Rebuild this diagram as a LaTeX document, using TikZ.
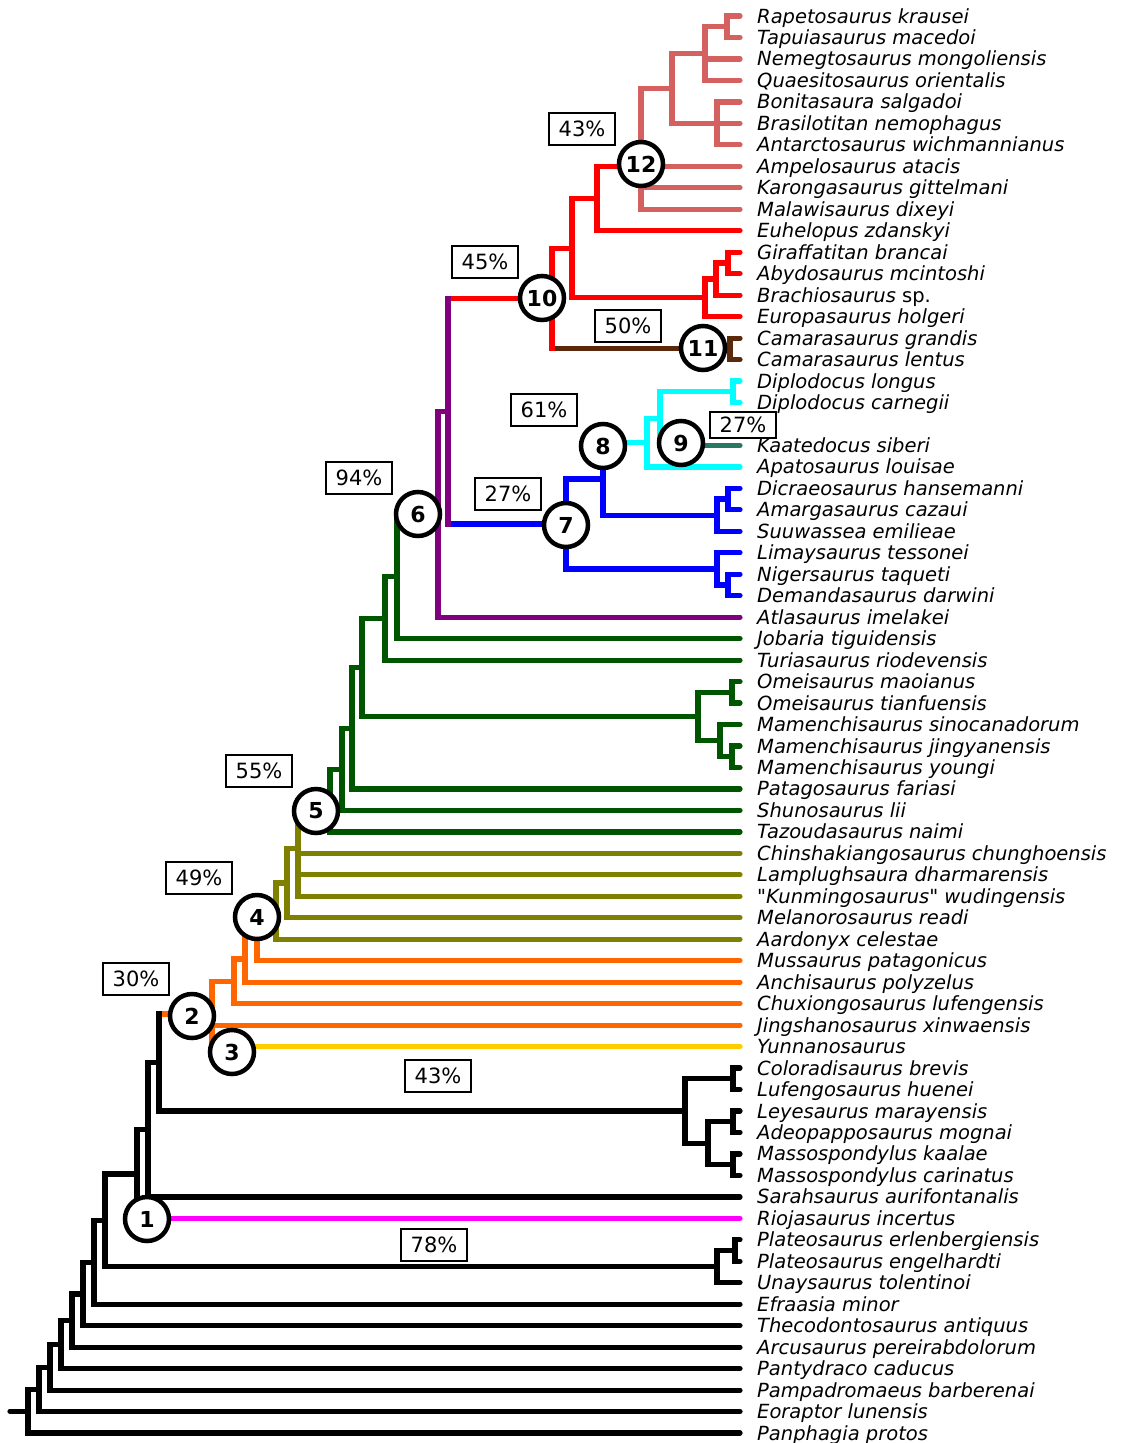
\documentclass[tikz,border=0pt]{standalone}
\usepackage{fontspec}
\setmainfont{DejaVu Sans}[Ligatures=TeXOff]
\definecolor{cLR}{RGB}{212,96,96}
\definecolor{cR}{RGB}{255,0,0}
\definecolor{cBr}{RGB}{90,40,10}
\definecolor{cCy}{RGB}{0,255,255}
\definecolor{cTe}{RGB}{40,120,100}
\definecolor{cBl}{RGB}{0,0,255}
\definecolor{cPu}{RGB}{128,0,128}
\definecolor{cGr}{RGB}{0,85,0}
\definecolor{cOl}{RGB}{128,128,0}
\definecolor{cOr}{RGB}{255,102,0}
\definecolor{cYe}{RGB}{255,204,0}
\definecolor{cMa}{RGB}{255,0,255}
\tikzset{
  br/.style={line width=5.2pt,line cap=round},
  lbl/.style={anchor=west,inner sep=0pt,text height=14pt,text depth=0pt,font=\fontsize{19.5}{23}\selectfont\itshape},
  cnum/.style={circle,draw=black,line width=4.5pt,fill=white,minimum size=44pt,inner sep=0pt,font=\fontsize{22}{24}\selectfont\bfseries},
  pbox/.style={draw=black,line width=2.5pt,fill=white,minimum width=66pt,minimum height=32pt,inner sep=0pt,font=\fontsize{21}{24}\selectfont}
}
\newcommand\mkleaf[3]{\coordinate (#1) at (740,#2); \node[lbl] (t#1) at (757,#2) {#3};}
\newcommand\hedge[3]{\draw[br,#1] (#2 |- #3) -- (#3);}
\newcommand\vedge[4]{\draw[br,line cap=rect,#1] (#2 |- #3) -- (#2 |- #4);}
\begin{document}
\begin{tikzpicture}[x=1pt,y=-1pt]
\useasboundingbox (0,0) rectangle (1124,1443);
% leaves
\mkleaf{l0}{16.0}{Rapetosaurus krausei}
\mkleaf{l1}{37.5}{Tapuiasaurus macedoi}
\mkleaf{l2}{58.9}{Nemegtosaurus mongoliensis}
\mkleaf{l3}{80.4}{Quaesitosaurus orientalis}
\mkleaf{l4}{101.9}{Bonitasaura salgadoi}
\mkleaf{l5}{123.4}{Brasilotitan nemophagus}
\mkleaf{l6}{144.8}{Antarctosaurus wichmannianus}
\mkleaf{l7}{166.3}{Ampelosaurus atacis}
\mkleaf{l8}{187.8}{Karongasaurus gittelmani}
\mkleaf{l9}{209.2}{Malawisaurus dixeyi}
\mkleaf{l10}{230.7}{Euhelopus zdanskyi}
\mkleaf{l11}{252.2}{Giraffatitan brancai}
\mkleaf{l12}{273.6}{Abydosaurus mcintoshi}
\mkleaf{l13}{295.1}{Brachiosaurus {\upshape sp.}}
\mkleaf{l14}{316.6}{Europasaurus holgeri}
\mkleaf{l15}{338.1}{Camarasaurus grandis}
\mkleaf{l16}{359.5}{Camarasaurus lentus}
\mkleaf{l17}{381.0}{Diplodocus longus}
\mkleaf{l18}{402.5}{Diplodocus carnegii}
\mkleaf{l20}{445.4}{Kaatedocus siberi}
\mkleaf{l21}{466.9}{Apatosaurus louisae}
\mkleaf{l22}{488.3}{Dicraeosaurus hansemanni}
\mkleaf{l23}{509.8}{Amargasaurus cazaui}
\mkleaf{l24}{531.3}{Suuwassea emilieae}
\mkleaf{l25}{552.8}{Limaysaurus tessonei}
\mkleaf{l26}{574.2}{Nigersaurus taqueti}
\mkleaf{l27}{595.7}{Demandasaurus darwini}
\mkleaf{l28}{617.2}{Atlasaurus imelakei}
\mkleaf{l29}{638.6}{Jobaria tiguidensis}
\mkleaf{l30}{660.1}{Turiasaurus riodevensis}
\mkleaf{l31}{681.6}{Omeisaurus maoianus}
\mkleaf{l32}{703.0}{Omeisaurus tianfuensis}
\mkleaf{l33}{724.5}{Mamenchisaurus sinocanadorum}
\mkleaf{l34}{746.0}{Mamenchisaurus jingyanensis}
\mkleaf{l35}{767.5}{Mamenchisaurus youngi}
\mkleaf{l36}{788.9}{Patagosaurus fariasi}
\mkleaf{l37}{810.4}{Shunosaurus lii}
\mkleaf{l38}{831.9}{Tazoudasaurus naimi}
\mkleaf{l39}{853.3}{Chinshakiangosaurus chunghoensis}
\mkleaf{l40}{874.8}{Lamplughsaura dharmarensis}
\mkleaf{l41}{896.3}{"Kunmingosaurus" wudingensis}
\mkleaf{l42}{917.7}{Melanorosaurus readi}
\mkleaf{l43}{939.2}{Aardonyx celestae}
\mkleaf{l44}{960.7}{Mussaurus patagonicus}
\mkleaf{l45}{982.2}{Anchisaurus polyzelus}
\mkleaf{l46}{1003.6}{Chuxiongosaurus lufengensis}
\mkleaf{l47}{1025.1}{Jingshanosaurus xinwaensis}
\mkleaf{l48}{1046.6}{Yunnanosaurus}
\mkleaf{l49}{1068.0}{Coloradisaurus brevis}
\mkleaf{l50}{1089.5}{Lufengosaurus huenei}
\mkleaf{l51}{1111.0}{Leyesaurus marayensis}
\mkleaf{l52}{1132.4}{Adeopapposaurus mognai}
\mkleaf{l53}{1153.9}{Massospondylus kaalae}
\mkleaf{l54}{1175.4}{Massospondylus carinatus}
\mkleaf{l55}{1196.9}{Sarahsaurus aurifontanalis}
\mkleaf{l56}{1218.3}{Riojasaurus incertus}
\mkleaf{l57}{1239.8}{Plateosaurus erlenbergiensis}
\mkleaf{l58}{1261.3}{Plateosaurus engelhardti}
\mkleaf{l59}{1282.7}{Unaysaurus tolentinoi}
\mkleaf{l60}{1304.2}{Efraasia minor}
\mkleaf{l61}{1325.7}{Thecodontosaurus antiquus}
\mkleaf{l62}{1347.1}{Arcusaurus pereirabdolorum}
\mkleaf{l63}{1368.6}{Pantydraco caducus}
\mkleaf{l64}{1390.1}{Pampadromaeus barberenai}
\mkleaf{l65}{1411.6}{Eoraptor lunensis}
\mkleaf{l66}{1433.0}{Panphagia protos}
% internal nodes
\coordinate (O4) at (727,26.75);
\coordinate (O2) at (705,53.6);
\coordinate (O3) at (717,123.4);
\coordinate (O1) at (672,88.5);
\coordinate (O0) at (641,166.3);
\coordinate (M2) at (597,198.5);
\coordinate (N2) at (728,262.9);
\coordinate (N1) at (716,279.0);
\coordinate (N0) at (705,297.8);
\coordinate (M1) at (572,248.2);
\coordinate (P0) at (730,348.8);
\coordinate (M0) at (552,298.5);
\coordinate (Q2) at (733,391.75);
\coordinate (L1) at (660,418.6);
\coordinate (L0) at (647,442.75);
\coordinate (K4) at (728,499.0);
\coordinate (K3) at (717,515.2);
\coordinate (K1) at (603,479.0);
\coordinate (K5) at (728,585.0);
\coordinate (K2) at (717,568.9);
\coordinate (K0) at (566,524.0);
\coordinate (J1) at (448,411.2);
\coordinate (J0) at (438,514.2);
\coordinate (Hjob) at (397,576.4);
\coordinate (Htur) at (385,618.3);
\coordinate (I1) at (732,692.3);
\coordinate (I3) at (732,756.75);
\coordinate (I2) at (720,740.6);
\coordinate (I0) at (698,716.5);
\coordinate (Hmam) at (362,667.4);
\coordinate (Hpat) at (352,728.2);
\coordinate (Hshu) at (342,769.3);
\coordinate (Htaz) at (330,800.6);
\coordinate (D3) at (298,848.5);
\coordinate (D2) at (287,883.0);
\coordinate (D1) at (276,911.0);
\coordinate (E1) at (257,935.9);
\coordinate (E2) at (245,959.0);
\coordinate (E3) at (234,981.3);
\coordinate (E4) at (212,1014.0);
\coordinate (F1) at (733,1078.75);
\coordinate (F3) at (733,1121.7);
\coordinate (F4) at (733,1164.65);
\coordinate (F2) at (708,1143.2);
\coordinate (F0) at (685,1111.0);
\coordinate (A10) at (159,1062.5);
\coordinate (A9) at (148,1129.7);
\coordinate (A8) at (137,1174.0);
\coordinate (G1) at (735,1250.5);
\coordinate (G0) at (717,1266.6);
\coordinate (A7) at (105,1220.3);
\coordinate (A6) at (94,1262.25);
\coordinate (A5) at (83,1294.0);
\coordinate (A4) at (72,1320.5);
\coordinate (A3) at (61,1344.6);
\coordinate (A2) at (50,1367.3);
\coordinate (A1) at (39,1389.5);
\coordinate (A0) at (28,1411.2);
\coordinate (root) at (10,1411.2);
% horizontal edges
\hedge{cLR}{O4}{l0} \hedge{cLR}{O4}{l1}
\hedge{cLR}{O2}{O4} \hedge{cLR}{O2}{l2} \hedge{cLR}{O2}{l3}
\hedge{cLR}{O3}{l4} \hedge{cLR}{O3}{l5} \hedge{cLR}{O3}{l6}
\hedge{cLR}{O1}{O2} \hedge{cLR}{O1}{O3}
\hedge{cLR}{O0}{O1} \hedge{cLR}{O0}{l7} \hedge{cLR}{O0}{l8} \hedge{cLR}{O0}{l9}
\hedge{cR}{M2}{O0} \hedge{cR}{M2}{l10}
\hedge{cR}{N2}{l11} \hedge{cR}{N2}{l12}
\hedge{cR}{N1}{N2} \hedge{cR}{N1}{l13}
\hedge{cR}{N0}{N1} \hedge{cR}{N0}{l14}
\hedge{cR}{M1}{M2} \hedge{cR}{M1}{N0}
\hedge{cBr}{P0}{l15} \hedge{cBr}{P0}{l16}
\hedge{cR}{M0}{M1} \hedge{cBr}{M0}{P0}
\hedge{cCy}{Q2}{l17} \hedge{cCy}{Q2}{l18}
\hedge{cCy}{L1}{Q2} \hedge{cTe}{L1}{l20}
\hedge{cCy}{L0}{L1} \hedge{cCy}{L0}{l21}
\hedge{cBl}{K4}{l22} \hedge{cBl}{K4}{l23}
\hedge{cBl}{K3}{K4} \hedge{cBl}{K3}{l24}
\hedge{cCy}{K1}{L0} \hedge{cBl}{K1}{K3}
\hedge{cBl}{K5}{l26} \hedge{cBl}{K5}{l27}
\hedge{cBl}{K2}{l25} \hedge{cBl}{K2}{K5}
\hedge{cBl}{K0}{K1} \hedge{cBl}{K0}{K2}
\hedge{cR}{J1}{M0} \hedge{cBl}{J1}{K0}
\hedge{cPu}{J0}{J1} \hedge{cPu}{J0}{l28}
\hedge{cGr}{Hjob}{J0} \hedge{cGr}{Hjob}{l29}
\hedge{cGr}{Htur}{Hjob} \hedge{cGr}{Htur}{l30}
\hedge{cGr}{I1}{l31} \hedge{cGr}{I1}{l32}
\hedge{cGr}{I3}{l34} \hedge{cGr}{I3}{l35}
\hedge{cGr}{I2}{l33} \hedge{cGr}{I2}{I3}
\hedge{cGr}{I0}{I1} \hedge{cGr}{I0}{I2}
\hedge{cGr}{Hmam}{Htur} \hedge{cGr}{Hmam}{I0}
\hedge{cGr}{Hpat}{Hmam} \hedge{cGr}{Hpat}{l36}
\hedge{cGr}{Hshu}{Hpat} \hedge{cGr}{Hshu}{l37}
\hedge{cGr}{Htaz}{Hshu} \hedge{cGr}{Htaz}{l38}
\hedge{cGr}{D3}{Htaz} \hedge{cOl}{D3}{l39} \hedge{cOl}{D3}{l40} \hedge{cOl}{D3}{l41}
\hedge{cOl}{D2}{D3} \hedge{cOl}{D2}{l42}
\hedge{cOl}{D1}{D2} \hedge{cOl}{D1}{l43}
\hedge{cOl}{E1}{D1} \hedge{cOr}{E1}{l44}
\hedge{cOr}{E2}{E1} \hedge{cOr}{E2}{l45}
\hedge{cOr}{E3}{E2} \hedge{cOr}{E3}{l46}
\hedge{cOr}{E4}{E3} \hedge{cOr}{E4}{l47} \hedge{cYe}{E4}{l48}
\hedge{black}{F1}{l49} \hedge{black}{F1}{l50}
\hedge{black}{F3}{l51} \hedge{black}{F3}{l52}
\hedge{black}{F4}{l53} \hedge{black}{F4}{l54}
\hedge{black}{F2}{F3} \hedge{black}{F2}{F4}
\hedge{black}{F0}{F1} \hedge{black}{F0}{F2}
\hedge{cOr}{A10}{E4} \hedge{black}{A10}{F0}
\hedge{black}{A9}{A10} \hedge{black}{A9}{l55}
\hedge{black}{A8}{A9} \hedge{cMa}{A8}{l56}
\hedge{black}{G1}{l57} \hedge{black}{G1}{l58}
\hedge{black}{G0}{G1} \hedge{black}{G0}{l59}
\hedge{black}{A7}{A8} \hedge{black}{A7}{G0}
\hedge{black}{A6}{A7} \hedge{black}{A6}{l60}
\hedge{black}{A5}{A6} \hedge{black}{A5}{l61}
\hedge{black}{A4}{A5} \hedge{black}{A4}{l62}
\hedge{black}{A3}{A4} \hedge{black}{A3}{l63}
\hedge{black}{A2}{A3} \hedge{black}{A2}{l64}
\hedge{black}{A1}{A2} \hedge{black}{A1}{l65}
\hedge{black}{A0}{A1} \hedge{black}{A0}{l66}
\draw[br,black] (root) -- (A0);
% vertical edges
\vedge{cLR}{O4}{l0}{l1}
\vedge{cLR}{O2}{O4}{l3}
\vedge{cLR}{O3}{l4}{l6}
\vedge{cLR}{O1}{O2}{O3}
\vedge{cLR}{O0}{O1}{l9}
\vedge{cR}{M2}{O0}{l10}
\vedge{cR}{N2}{l11}{l12}
\vedge{cR}{N1}{N2}{l13}
\vedge{cR}{N0}{N1}{l14}
\vedge{cR}{M1}{M2}{N0}
\vedge{cBr}{P0}{l15}{l16}
\vedge{cR}{M0}{M1}{P0}
\vedge{cCy}{Q2}{l17}{l18}
\vedge{cCy}{L1}{Q2}{l20}
\vedge{cCy}{L0}{L1}{l21}
\vedge{cBl}{K4}{l22}{l23}
\vedge{cBl}{K3}{K4}{l24}
\vedge{cBl}{K1}{L0}{K3}
\vedge{cBl}{K5}{l26}{l27}
\vedge{cBl}{K2}{l25}{K5}
\vedge{cBl}{K0}{K1}{K2}
\vedge{cPu}{J1}{M0}{K0}
\vedge{cPu}{J0}{J1}{l28}
\vedge{cGr}{Hjob}{J0}{l29}
\vedge{cGr}{Htur}{Hjob}{l30}
\vedge{cGr}{I1}{l31}{l32}
\vedge{cGr}{I3}{l34}{l35}
\vedge{cGr}{I2}{l33}{I3}
\vedge{cGr}{I0}{I1}{I2}
\vedge{cGr}{Hmam}{Htur}{I0}
\vedge{cGr}{Hpat}{Hmam}{l36}
\vedge{cGr}{Hshu}{Hpat}{l37}
\vedge{cGr}{Htaz}{Hshu}{l38}
\vedge{cOl}{D3}{Htaz}{l41}
\vedge{cOl}{D2}{D3}{l42}
\vedge{cOl}{D1}{D2}{l43}
\vedge{cOr}{E1}{D1}{l44}
\vedge{cOr}{E2}{E1}{l45}
\vedge{cOr}{E3}{E2}{l46}
\vedge{cOr}{E4}{E3}{l48}
\vedge{black}{F1}{l49}{l50}
\vedge{black}{F3}{l51}{l52}
\vedge{black}{F4}{l53}{l54}
\vedge{black}{F2}{F3}{F4}
\vedge{black}{F0}{F1}{F2}
\vedge{black}{A10}{E4}{F0}
\vedge{black}{A9}{A10}{l55}
\vedge{black}{A8}{A9}{l56}
\vedge{black}{G1}{l57}{l58}
\vedge{black}{G0}{G1}{l59}
\vedge{black}{A7}{A8}{G0}
\vedge{black}{A6}{A7}{l60}
\vedge{black}{A5}{A6}{l61}
\vedge{black}{A4}{A5}{l62}
\vedge{black}{A3}{A4}{l63}
\vedge{black}{A2}{A3}{l64}
\vedge{black}{A1}{A2}{l65}
\vedge{black}{A0}{A1}{l66}
% numbered circles
\node[cnum] (c1) at (147,1219) {1};
\node[cnum] (c2) at (192,1016) {2};
\node[cnum] (c3) at (232,1052) {3};
\node[cnum] (c4) at (257,917) {4};
\node[cnum] (c5) at (316,811) {5};
\node[cnum] (c6) at (418,514) {6};
\node[cnum] (c7) at (566,525) {7};
\node[cnum] (c8) at (603,446) {8};
\node[cnum] (c9) at (681,443) {9};
\node[cnum] (c10) at (542,298) {10};
\node[cnum] (c11) at (703,348) {11};
\node[cnum] (c12) at (641,164) {12};
% percentage boxes
\node[pbox] (p43a) at (582,129) {43\%};
\node[pbox] (p45) at (485,262) {45\%};
\node[pbox] (p50) at (628,326) {50\%};
\node[pbox] (p61) at (544,410) {61\%};
\node[pbox,minimum height=26pt] (p27a) at (743,425) {27\%};
\node[pbox] (p27b) at (508,494) {27\%};
\node[pbox] (p94) at (359,478) {94\%};
\node[pbox] (p55) at (259,771) {55\%};
\node[pbox] (p49) at (199,878) {49\%};
\node[pbox] (p30) at (136,979) {30\%};
\node[pbox] (p43b) at (438,1076) {43\%};
\node[pbox] (p78) at (434,1245) {78\%};
\end{tikzpicture}
\end{document}
